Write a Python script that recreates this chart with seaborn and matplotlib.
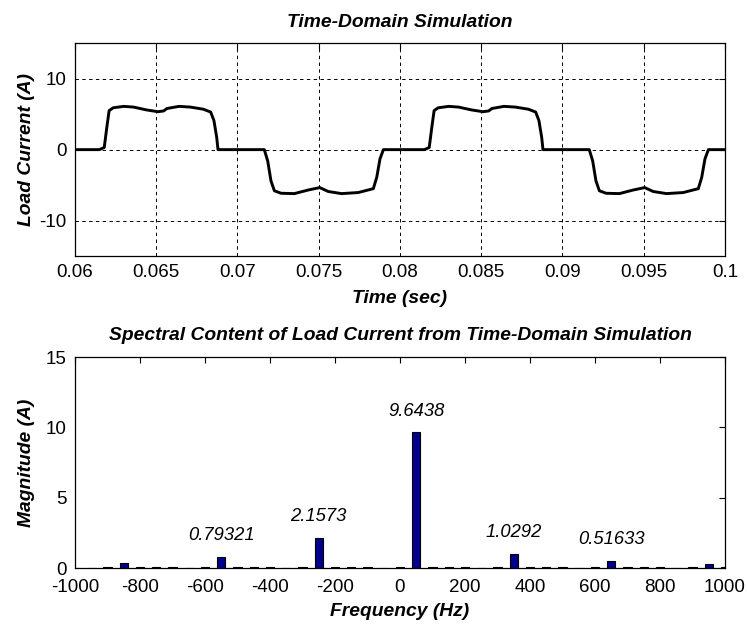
import matplotlib
matplotlib.use("Agg")
import matplotlib.pyplot as plt
import seaborn as sns
import pandas as pd

# ---------------- data ----------------
time_s = [0.0600, 0.0615, 0.0618, 0.06195, 0.0621, 0.06235, 0.0630, 0.0636, 0.0644,
          0.0651, 0.06545, 0.06566, 0.0664, 0.0671, 0.0679, 0.06835, 0.06855, 0.06872,
          0.0688, 0.07165, 0.07186, 0.07206, 0.07227, 0.07268, 0.0735, 0.07434, 0.07506,
          0.07558, 0.0764, 0.07743, 0.07836, 0.07857, 0.07877, 0.07898,
          0.0815, 0.0818, 0.08195, 0.0821, 0.08235, 0.0830, 0.0836, 0.0844,
          0.0851, 0.08545, 0.08566, 0.0864, 0.0871, 0.0879, 0.08835, 0.08855, 0.08872,
          0.0888, 0.09165, 0.09186, 0.09206, 0.09227, 0.09268, 0.0935, 0.09434, 0.09506,
          0.09558, 0.0964, 0.09743, 0.09836, 0.09857, 0.09877, 0.09898, 0.1000]
current_a = [0.0, 0.0, 0.3, 3.0, 5.5, 5.9, 6.1, 6.0, 5.6,
             5.35, 5.45, 5.8, 6.1, 6.0, 5.7, 5.3, 4.1, 1.75,
             0.0, 0.0, -1.6, -4.4, -5.8, -6.15, -6.2, -5.7, -5.35,
             -5.9, -6.2, -6.05, -5.5, -3.9, -1.3, 0.0,
             0.0, 0.3, 3.0, 5.5, 5.9, 6.1, 6.0, 5.6,
             5.35, 5.45, 5.8, 6.1, 6.0, 5.7, 5.3, 4.1, 1.75,
             0.0, 0.0, -1.6, -4.4, -5.8, -6.15, -6.2, -5.7, -5.35,
             -5.9, -6.2, -6.05, -5.5, -3.9, -1.3, 0.0, 0.0]

freq_hz = [-1000, -950, -900, -850, -800, -750, -700, -650, -600, -550, -500,
           -450, -400, -350, -300, -250, -200, -150, -100, -50, 0,
           50, 100, 150, 200, 250, 300, 350, 400, 450, 500,
           550, 600, 650, 700, 750, 800, 850, 900, 950, 1000]
magnitude = [0.03, 0.0, 0.08, 0.38, 0.08, 0.08, 0.08, 0.0, 0.08, 0.79321, 0.08,
             0.08, 0.08, 0.0, 0.08, 2.1573, 0.08, 0.08, 0.08, 0.0, 0.09,
             9.6438, 0.08, 0.08, 0.08, 0.0, 0.08, 1.0292, 0.08, 0.08, 0.08,
             0.0, 0.08, 0.51633, 0.08, 0.08, 0.08, 0.0, 0.08, 0.28, 0.08]

label_freq = [-550, -250, 50, 350, 650]
label_mag = [0.79321, 2.1573, 9.6438, 1.0292, 0.51633]
label_text = ["0.79321", "2.1573", "9.6438", "1.0292", "0.51633"]

time_ticks = [0.06, 0.065, 0.07, 0.075, 0.08, 0.085, 0.09, 0.095, 0.1]
time_ticklabels = ["0.06", "0.065", "0.07", "0.075", "0.08", "0.085", "0.09", "0.095", "0.1"]
cur_ticks = [-10, 0, 10]
freq_ticks = [-1000, -800, -600, -400, -200, 0, 200, 400, 600, 800, 1000]
mag_ticks = [0, 5, 10, 15]

# ---------------- style ----------------
sns.set_style("white")
plt.rcParams["font.family"] = ["Liberation Sans", "DejaVu Sans"]
plt.rcParams["axes.unicode_minus"] = False
plt.rcParams["text.color"] = "black"
plt.rcParams["axes.labelcolor"] = "black"
plt.rcParams["xtick.color"] = "black"
plt.rcParams["ytick.color"] = "black"
plt.rcParams["xtick.direction"] = "in"
plt.rcParams["ytick.direction"] = "in"
plt.rcParams["xtick.top"] = True
plt.rcParams["ytick.right"] = True
plt.rcParams["axes.edgecolor"] = "black"
plt.rcParams["axes.linewidth"] = 0.9

fig = plt.figure(figsize=(7.47, 6.24), dpi=100)
ax1 = fig.add_axes([0.1004, 0.5897, 0.8701, 0.341])
ax2 = fig.add_axes([0.1004, 0.0897, 0.8701, 0.338])

tick_fs = 13.5
lab_fs = 13.9
ann_fs = 13.2

# ---------------- top: time domain ----------------
df_t = pd.DataFrame({"t": time_s, "i": current_a})
sns.lineplot(data=df_t, x="t", y="i", ax=ax1, color="black", linewidth=2.1, sort=False)
ax1.set_xlim(0.06, 0.1)
ax1.set_ylim(-15, 15)
ax1.set_xticks(time_ticks)
ax1.set_xticklabels(time_ticklabels)
ax1.set_yticks(cur_ticks)
ax1.grid(True, color="black", linestyle=(0, (3.5, 3.5)), linewidth=0.7)
ax1.set_title("Time-Domain Simulation", fontsize=lab_fs, fontweight="bold",
              fontstyle="italic", pad=12)
ax1.set_xlabel("Time (sec)", fontsize=lab_fs, fontweight="bold", fontstyle="italic", labelpad=6)
ax1.set_ylabel("Load Current (A)", fontsize=lab_fs, fontweight="bold", fontstyle="italic", labelpad=3)
ax1.tick_params(axis="both", labelsize=tick_fs, length=4, width=0.8, color="black", pad=6)

# ---------------- bottom: spectrum ----------------
df_f = pd.DataFrame({"f": freq_hz, "m": magnitude})
sns.barplot(data=df_f, x="f", y="m", ax=ax2, native_scale=True, width=0.5,
            color="#00008C", saturation=1, edgecolor="black", linewidth=0.8,
            errorbar=None)
ax2.set_xlim(-1000, 1000)
ax2.set_ylim(0, 15)
ax2.set_xticks(freq_ticks)
ax2.set_xticklabels([str(v) for v in freq_ticks])
ax2.set_yticks(mag_ticks)
for f, m, s in zip(label_freq, label_mag, label_text):
    ax2.text(f, m + 1.5, s, ha="center", va="center", fontsize=ann_fs,
             fontstyle="italic")
ax2.set_title("Spectral Content of Load Current from Time-Domain Simulation",
              fontsize=lab_fs, fontweight="bold", fontstyle="italic", pad=12)
ax2.set_xlabel("Frequency (Hz)", fontsize=lab_fs, fontweight="bold", fontstyle="italic", labelpad=5)
ax2.set_ylabel("Magnitude (A)", fontsize=lab_fs, fontweight="bold", fontstyle="italic", labelpad=8)
ax2.tick_params(axis="x", labelsize=tick_fs, length=4, width=0.8, color="black", pad=8)
ax2.tick_params(axis="y", labelsize=tick_fs, length=4, width=0.8, color="black", pad=6)
ax2.grid(False)

for ax in (ax1, ax2):
    for sp in ax.spines.values():
        sp.set_visible(True)
        sp.set_color("black")

fig.savefig("out.png", dpi=100)
